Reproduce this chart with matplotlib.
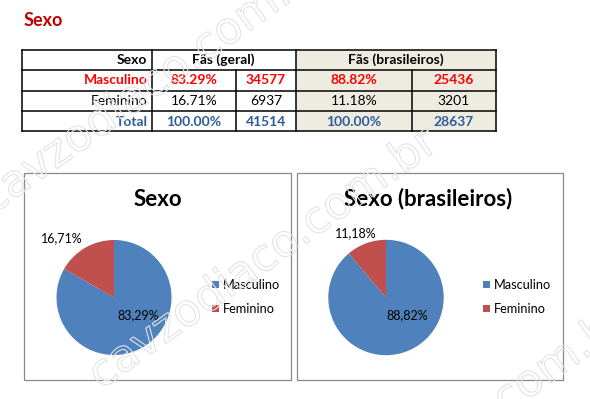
import matplotlib
matplotlib.use("Agg")
import matplotlib.pyplot as plt
from matplotlib.patches import Rectangle
import matplotlib.patheffects as pe

plt.rcParams['font.family'] = ['Lato', 'DejaVu Sans']

# --- data ---
categories = ["Masculino", "Feminino"]
pct_geral = [83.29, 16.71]
n_geral = [34577, 6937]
pct_bras = [88.82, 11.18]
n_bras = [25436, 3201]
total_label = "Total"
header_sexo = "Sexo"
header_geral = "Fãs (geral)"
header_bras = "Fãs (brasileiros)"
chart_titles = ["Sexo", "Sexo (brasileiros)"]

W, H = 590, 399
RED = "#FF0000"
BLUE = "#2E5B9A"
PIE_COLORS = ["#4F81BD", "#C0504D"]

fig = plt.figure(figsize=(W / 100, H / 100), dpi=100)
bg = fig.add_axes([0, 0, 1, 1])
bg.set_xlim(0, W)
bg.set_ylim(H, 0)
bg.axis("off")


def fbox(x0, y0, x1, y1):
    """pixel box (top-left origin) -> figure rect"""
    return [x0 / W, 1 - y1 / H, (x1 - x0) / W, (y1 - y0) / H]


# page title
bg.text(24, 21, "Sexo", color="#C00000", fontsize=13, fontweight="bold",
        ha="left", va="center")

# --- table ---
xs = [22, 151.5, 236, 296, 411.7, 495.7]
ys = [49.5, 69.5, 90.5, 111, 131]
bg.add_patch(Rectangle((xs[3], ys[0]), xs[5] - xs[3], ys[4] - ys[0],
                       facecolor="#EEECE1", edgecolor="none", zorder=1))
lw = 1.1
for y in ys:
    bg.plot([xs[0], xs[5]], [y, y], color="black", lw=lw, zorder=2)
for i, x in enumerate(xs):
    y_start = ys[1] if i in (2, 4) else ys[0]
    bg.plot([x, x], [y_start, ys[4]], color="black", lw=lw, zorder=2)

fs = 10
rc = [(ys[k] + ys[k + 1]) / 2 + 0.5 for k in range(4)]
cc = [(xs[k] + xs[k + 1]) / 2 for k in range(5)]
bg.text(xs[1] - 4, rc[0], header_sexo, ha="right", va="center", fontsize=fs, fontweight="bold")
bg.text((xs[1] + xs[3]) / 2, rc[0], header_geral, ha="center", va="center", fontsize=fs, fontweight="bold")
bg.text((xs[3] + xs[5]) / 2, rc[0], header_bras, ha="center", va="center", fontsize=fs, fontweight="bold")

row_styles = [dict(color=RED, fontweight="bold"), dict(color="black", fontweight="normal")]
for k, cat in enumerate(categories):
    st = row_styles[k]
    y = rc[k + 1]
    bg.text(xs[1] - 4, y, cat, ha="right", va="center", fontsize=fs, **st)
    vals = [f"{pct_geral[k]:.2f}%", f"{n_geral[k]}", f"{pct_bras[k]:.2f}%", f"{n_bras[k]}"]
    for j, v in enumerate(vals):
        bg.text(cc[j + 1], y, v, ha="center", va="center", fontsize=fs, **st)

tot = [f"{sum(pct_geral):.2f}%", f"{sum(n_geral)}", f"{sum(pct_bras):.2f}%", f"{sum(n_bras)}"]
bg.text(xs[1] - 4, rc[3], total_label, ha="right", va="center", fontsize=fs, color=BLUE, fontweight="bold")
for j, v in enumerate(tot):
    bg.text(cc[j + 1], rc[3], v, ha="center", va="center", fontsize=fs, color=BLUE, fontweight="bold")

# --- pie charts ---
charts = [
    dict(vals=pct_geral, box=(24.3, 173.3, 291, 380), center=(114, 297.5), r=57.5,
         title_xy=(158, 199), legend_x=212,
         label_pos=[(0.42, -0.30), (-0.90, 1.03)]),
    dict(vals=pct_bras, box=(296.7, 173.3, 563.3, 380), center=(386, 297.5), r=57.7,
         title_xy=(428, 199), legend_x=483,
         label_pos=[(0.37, -0.30), (-0.52, 1.12)]),
]

for ch, title in zip(charts, chart_titles):
    x0, y0, x1, y1 = ch["box"]
    bg.add_patch(Rectangle((x0, y0), x1 - x0, y1 - y0, facecolor="white",
                           edgecolor="#888888", lw=0.9, zorder=1))
    bg.text(*ch["title_xy"], title, ha="center", va="center", fontsize=16,
            fontweight="bold", zorder=3)
    cx, cy = ch["center"]
    r = ch["r"]
    ax = fig.add_axes(fbox(cx - r, cy - r, cx + r, cy + r))
    wedges, _ = ax.pie(ch["vals"], colors=PIE_COLORS, startangle=90,
                       counterclock=False, radius=1)
    ax.set_xlim(-1, 1)
    ax.set_ylim(-1, 1)
    ax.set_aspect("equal")
    ax.axis("off")
    for v, (lx, ly) in zip(ch["vals"], ch["label_pos"]):
        ax.text(lx, ly, f"{v:.2f}%".replace(".", ","), ha="center", va="center",
                fontsize=9, clip_on=False)
    leg = ax.legend(wedges, categories, loc="center left",
                    bbox_to_anchor=(ch["legend_x"], 297), bbox_transform=bg.transData,
                    frameon=False, fontsize=9.2, handlelength=0.55, handleheight=0.55,
                    handletextpad=0.3, labelspacing=0.95, borderpad=0, borderaxespad=0)

# --- watermark ---
wm_text = "cavzodiaco.com.br"
for (wx, wy) in [(-8, 215), (101, 390), (293, 567)]:
    t = fig.text(wx / W, 1 - wy / H, wm_text, fontsize=32, family="DejaVu Sans",
                 rotation=35.5, rotation_mode="anchor", ha="left", va="baseline",
                 color="none", zorder=10)
    t.set_path_effects([pe.Stroke(linewidth=0.8, foreground="#e3e3e3")])

fig.savefig("out.png", dpi=100)
